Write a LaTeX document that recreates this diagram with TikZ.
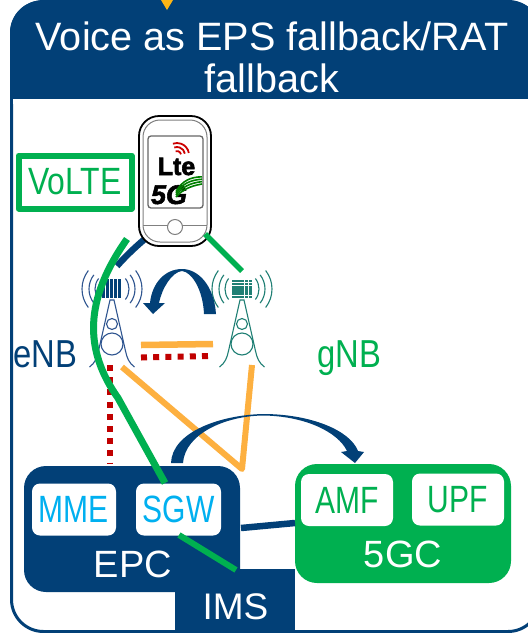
\documentclass[tikz,border=0pt]{standalone}
\usepackage{fontspec}
\setmainfont{Liberation Sans}
\newfontfamily\heavy[FakeBold=2.5]{Liberation Sans Bold}
\newfontfamily\heavyit[FakeBold=2]{Liberation Sans Bold Italic}
\definecolor{navy}{HTML}{024077}
\definecolor{grn}{HTML}{00B050}
\definecolor{cyn}{HTML}{00B0F0}
\definecolor{org}{HTML}{FDB040}
\definecolor{rd}{HTML}{C00000}
\definecolor{yel}{HTML}{FDB515}
\definecolor{teal1}{HTML}{1F7F74}
\definecolor{twr}{HTML}{2F5590}
\newcommand{\fs}[1]{\fontsize{#1}{#1}\selectfont}
\newcommand{\sq}[1]{\scalebox{.84}[1]{#1}}
\newcommand{\sqf}[1]{\scalebox{.79}[1]{#1}}
\tikzset{
  every node/.style={inner sep=0pt,outer sep=0pt},
  core/.style={rounded corners=22pt},
  func/.style={fill=white,rounded corners=8pt,minimum height=52pt,font=\fs{38}},
  lbl/.style={font=\fs{38}},
  dots/.style={line width=6pt,draw=rd,dash pattern=on 6pt off 6.2pt},
  wave/.style={line width=1.1pt},
}
\newcommand{\tower}[3]{% name, x, colour
  \coordinate (#1) at (#2,289);
  \foreach \r in {17,23,30}{
    \draw[wave,#3] (#2,289) ++(-38:\r pt) arc[start angle=-38,end angle=38,radius=\r pt];
    \draw[wave,#3] (#2,289) ++(142:\r pt) arc[start angle=142,end angle=218,radius=\r pt];
  }
  \draw[line width=1.1pt,#3] (#2-22.5,367) .. controls (#2-17,363) and (#2-15,358) .. (#2-13.5,351)
     -- (#2-2,300) -- (#2+2,300) -- (#2+13.5,351) .. controls (#2+15,358) and (#2+17,363) .. (#2+22.5,367);
  \draw[line width=1.1pt,#3] (#2,324) circle[radius=5.5pt] (#2,344) circle[radius=11pt];
}
\begin{document}
\begin{tikzpicture}[x=1pt,y=-1pt]
\clip (0,0) rectangle (528,633);
% frame
\draw[navy,line width=3pt,fill=white,rounded corners=32pt] (11.5,1.5) rectangle (540,631.5);
\fill[navy,rounded corners=32pt] (10,99) -- (10,0.5) -- (541,0.5) -- (541,99) -- cycle;
\fill[navy] (10,60) rectangle (528,99);
\fill[white] (13,99) rectangle (528,104);
\fill[yel] (161,0) -- (173,0) -- (167,10) -- cycle;
\node[font=\fs{39.6},align=center,white] (title) at (272,57) {Voice as EPS fallback/RAT\\[2.5pt]fallback};
% towers
\tower{enbT}{112}{twr}
\tower{gnbT}{242}{teal1}
\foreach \i in {0,...,4} \fill[navy] (101.5+\i*4.2,279) rectangle ++(3,19);
\foreach \i in {0,...,4} \foreach \j in {0,...,5} \fill[teal1] (232+\i*4.2,279.5+\j*3.2) rectangle ++(3.6,2.6);
% core boxes
\node[core,fill=navy,minimum width=216pt,minimum height=126pt] (epc) at (132,529) {};
\node[core,fill=grn,minimum width=216pt,minimum height=119pt] (fgc) at (403,523.5) {};
\node[fill=navy,minimum width=120pt,minimum height=64pt] (ims) at (235,601) {};
\node[func,minimum width=84pt,text=cyn] (mme) at (74,509.5) {\sqf{MME}};
\node[func,minimum width=85pt,text=cyn] (sgw) at (178.5,509.5) {\sqf{SGW}};
\node[func,minimum width=92pt,text=grn] (amf) at (347,500) {\sqf{AMF}};
\node[func,minimum width=92pt,text=grn] (upf) at (458,499.5) {\sqf{UPF}};
\node[lbl,white,anchor=base] (epcl) at (133,577) {EPC};
\node[lbl,white,anchor=base] (fgcl) at (403,567) {5GC};
\node[lbl,white,anchor=base,font=\fs{37}] (imsl) at (235.5,619) {IMS};
\node[font=\fs{39},text=navy,anchor=base] (enb) at (45,367) {\sq{eNB}};
\node[font=\fs{39},text=grn,anchor=base] (gnb) at (349,367) {\sq{gNB}};
% named free ends
\coordinate (a1) at (146,238);
\coordinate (a2) at (117,266);
\coordinate (g1) at (205,234);
\coordinate (g2) at (242,271);
\coordinate (c1) at (127,239);
\coordinate (c2) at (118,398);
\coordinate (c3) at (165,483);
\coordinate (o1) at (141,345);
\coordinate (o2) at (213,344);
\coordinate (r1) at (141,357.5);
\coordinate (r2) at (213,356);
\coordinate (o3) at (122,367);
\coordinate (o4) at (242,469);
\coordinate (o5) at (252,365);
\coordinate (v1) at (110,365);
\coordinate (v2) at (110,464);
\coordinate (l1) at (241,528);
\coordinate (l2) at (295,523);
\coordinate (i1) at (179,535);
\coordinate (i2) at (236,570);
% phone link behind the phone
\draw[navy,line width=6.5pt] (a1) .. controls (133,249) and (124,258) .. (a2);
% dotted red
\draw[dots] (r1) -- (r2);
\draw[dots] (v1) -- (v2);
% orange
\draw[org,line width=6.5pt] (o1) -- (o2);
\draw[org,line width=6pt,line join=round] (o3) -- (o4) -- (o5);
% links
\draw[navy,line width=6.5pt] (l1) -- (l2);
\draw[grn,line width=6pt] (i1) -- (i2);
% curved arrows
\fill[navy] (216,314) .. controls (214,285) and (198,269) .. (182,269)
  .. controls (165,269) and (152,283) .. (150,303) -- (143,303) -- (153,314) -- (165,303) -- (159,303)
  .. controls (162,288) and (172,272) .. (182,271) .. controls (192,272) and (203,290) .. (204,314) -- cycle;
\fill[navy] (171,463) .. controls (172,432) and (220,415) .. (263,414)
  .. controls (310,414) and (350,430) .. (358,451) -- (364,452) -- (355,463) -- (341,452) -- (347,451)
  .. controls (338,432) and (305,416) .. (263,415.5) .. controls (225,416) and (185,434) .. (183,463) -- cycle;
% phone
\node[draw=black,line width=1.8pt,fill=white,rounded corners=20pt,minimum width=72pt,minimum height=130pt] (phone) at (175,181) {};
\draw[gray,line width=1pt,rounded corners=17pt] (143,120) rectangle (207,242);
\draw[gray,line width=1pt] (143,225) -- (168,225) (182,225) -- (207,225);
\draw[black!60,line width=1.3pt,rounded corners=3pt,fill=white] (148,136) rectangle (203,208);
\draw[gray,line width=1pt,fill=white] (175,227) circle[radius=7.5pt];
\node[font=\fs{25}\heavy,anchor=base] (lte) at (176.5,175) {Lte};
\node[font=\fs{27}\heavyit,anchor=base] (fiveg) at (169,204) {5G};
\foreach \r in {4,8,12} \draw[red!80!black,line width=1.8pt] (177,155) ++(10:\r pt) arc[start angle=10,end angle=110,radius=\r pt];
\foreach \d in {0,3,6,9} \draw[green!50!black,line width=1.6pt] (176,197-\d*.6) .. controls (182,190-\d) and (190,186-\d) .. (202,184-\d*.8);
% green
\draw[grn,line width=5.5pt] (g1) -- (g2);
\draw[grn,line width=7pt] (c1) .. controls (84,300) and (84,350) .. (c2) -- (c3);
% VoLTE
\node[draw=grn,line width=6pt,line join=round,minimum width=113pt,minimum height=53pt,font=\fs{38},text=grn] (volte) at (75,182) {\sq{VoLTE}};
\end{tikzpicture}
\end{document}
